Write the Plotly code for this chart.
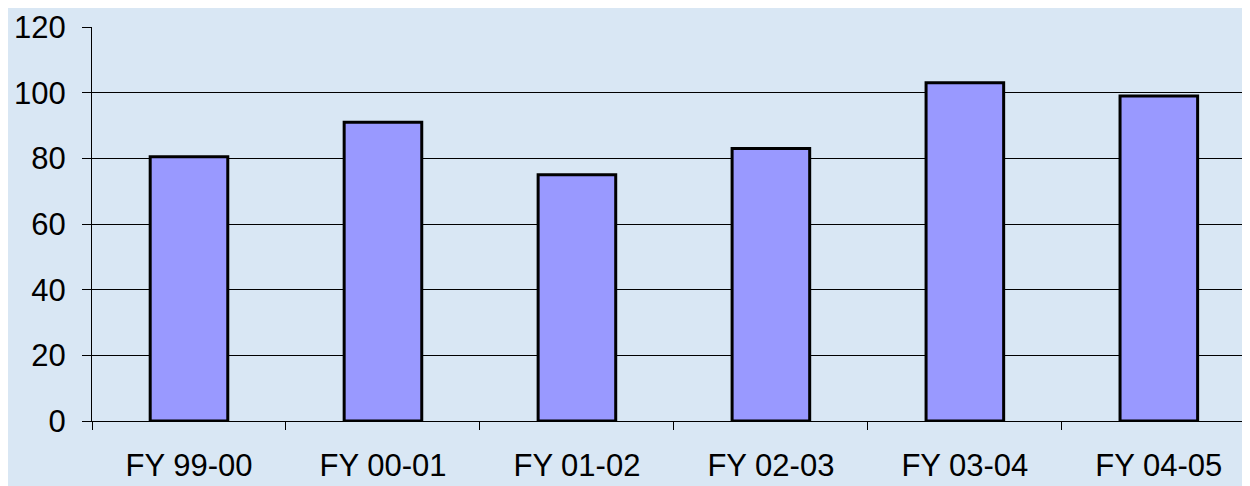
import plotly.graph_objects as go

# categories and values
years = ["FY 99-00", "FY 00-01", "FY 01-02", "FY 02-03", "FY 03-04", "FY 04-05"]
values = [80.5, 91, 75, 83, 103, 99]
y_ticks = [0, 20, 40, 60, 80, 100, 120]

fig = go.Figure()

fig.add_trace(go.Bar(
    x=years,
    y=values,
    width=0.4,
    marker=dict(color="#9999FF", line=dict(color="black", width=3)),
    hoverinfo="x+y",
))

font = dict(family="Liberation Sans, Arial, sans-serif", size=31, color="black")

# page body adds an 8px margin, so the figure is sized a little smaller
fig.update_layout(
    width=1242,
    height=478,
    margin=dict(l=84, r=0, t=19, b=65),
    paper_bgcolor="#D9E7F4",
    plot_bgcolor="#D9E7F4",
    showlegend=False,
    font=font,
    xaxis=dict(
        type="category",
        range=[-0.5, 5.47],
        showgrid=False,
        showline=True,
        linecolor="black",
        linewidth=1,
        ticks="outside",
        tickson="boundaries",
        ticklen=8,
        tickcolor="black",
        tickfont=font,
        ticklabelstandoff=17,
    ),
    yaxis=dict(
        range=[0, 120],
        tickvals=y_ticks,
        showgrid=True,
        gridcolor="black",
        gridwidth=1,
        zeroline=False,
        showline=True,
        linecolor="black",
        linewidth=1,
        ticks="outside",
        ticklen=9,
        tickcolor="black",
        tickfont=font,
        ticklabelstandoff=10,
    ),
)

fig.write_html("out.html")
